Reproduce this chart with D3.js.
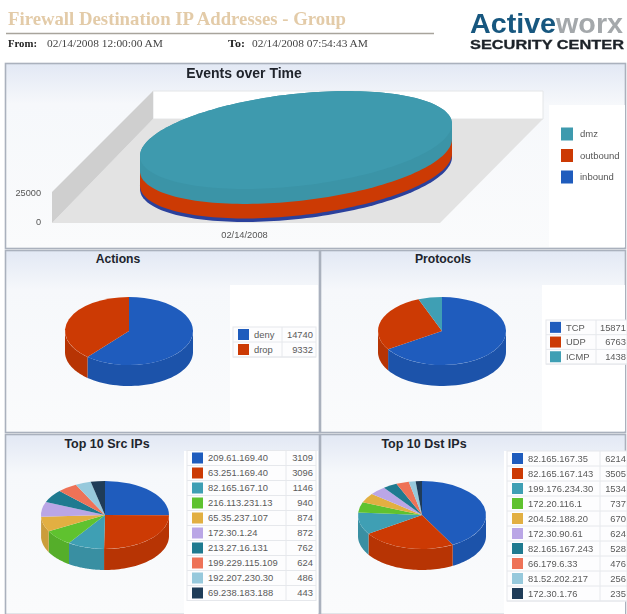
<!DOCTYPE html>
<html>
<head>
<meta charset="utf-8">
<script src="https://cdnjs.cloudflare.com/ajax/libs/d3/7.8.5/d3.min.js"></script>
<style>
  html, body { margin: 0; padding: 0; background: #fff; }
  svg { display: block; filter: blur(0.55px); }
  text { font-family: "Liberation Sans", Arial, sans-serif; }
  .serif { font-family: "Liberation Serif", serif; }
</style>
</head>
<body>
<svg id="chart" width="627" height="614"></svg>
<script>
const REPORT_TITLE = 'Firewall Destination IP Addresses - Group';
const DATE_FROM = '02/14/2008 12:00:00 AM';
const DATE_TO = '02/14/2008 07:54:43 AM';

const COLORS = ['#1f5cbd', '#cc3a04', '#3f9fb4', '#5fc22f', '#e2af42', '#baa6e6', '#1f7a90', '#ee7257', '#97c9dc', '#1f3c58'];

const EVENT_DATE = ['02/14/2008'];
const EVENT_TICKS = [0, 25000];
const EVENT_NAMES = ['inbound', 'outbound', 'dmz'];
const EVENT_VALUES = [2550, 10590, 10932];
const EVENT_COLORS = ['#2b419c', '#cc3a04', '#3e9aae'];

const ACTION_NAMES = ['deny', 'drop'];
const ACTION_VALUES = [14740, 9332];

const PROTOCOL_NAMES = ['TCP', 'UDP', 'ICMP'];
const PROTOCOL_VALUES = [15871, 6763, 1438];

const SRC_NAMES = ['209.61.169.40', '63.251.169.40', '82.165.167.10', '216.113.231.13', '65.35.237.107', '172.30.1.24', '213.27.16.131', '199.229.115.109', '192.207.230.30', '69.238.183.188'];
const SRC_VALUES = [3109, 3096, 1146, 940, 874, 872, 762, 624, 486, 443];

const DST_NAMES = ['82.165.167.35', '82.165.167.143', '199.176.234.30', '172.20.116.1', '204.52.188.20', '172.30.90.61', '82.165.167.243', '66.179.6.33', '81.52.202.217', '172.30.1.76'];
const DST_VALUES = [6214, 3505, 1534, 737, 670, 624, 528, 476, 256, 235];

const svg = d3.select('#chart');

const defs = svg.append('defs');
const grad = defs.append('linearGradient').attr('id', 'panelBg').attr('x1', 0).attr('y1', 0).attr('x2', 0).attr('y2', 1);
grad.append('stop').attr('offset', 0).attr('stop-color', '#e2e8f4');
grad.append('stop').attr('offset', 0.22).attr('stop-color', '#f6f8fb');
grad.append('stop').attr('offset', 1).attr('stop-color', '#fafbfc');

function renderHeader() {
  svg.append('text').attr('class', 'serif').attr('x', 8).attr('y', 25)
    .attr('font-size', 19).attr('font-weight', 'bold').attr('fill', '#e3cba8')
    .attr('textLength', 338).attr('lengthAdjust', 'spacingAndGlyphs').text(REPORT_TITLE);
  svg.append('line').attr('x1', 6).attr('x2', 434).attr('y1', 33.5).attr('y2', 33.5)
    .attr('stroke', '#a8a49c').attr('stroke-width', 1.5);

  const dates = [['From:', 8, 29, DATE_FROM, 47], ['To:', 228, 17, DATE_TO, 252]];
  dates.forEach(d => {
    svg.append('text').attr('class', 'serif').attr('x', d[1]).attr('y', 47)
      .attr('font-size', 10.5).attr('font-weight', 'bold').attr('fill', '#222')
      .attr('textLength', d[2]).attr('lengthAdjust', 'spacingAndGlyphs').text(d[0]);
    svg.append('text').attr('class', 'serif').attr('x', d[4]).attr('y', 47)
      .attr('font-size', 10.5).attr('fill', '#444')
      .attr('textLength', 116).attr('lengthAdjust', 'spacingAndGlyphs').text(d[3]);
  });

  // logo
  const logo = svg.append('text').attr('x', 470).attr('y', 32.5)
    .attr('font-size', 28).attr('font-weight', 'bold')
    .attr('textLength', 153).attr('lengthAdjust', 'spacingAndGlyphs');
  logo.append('tspan').attr('fill', '#17577f').text('Active');
  logo.append('tspan').attr('fill', '#a4a8ab').text('worx');
  svg.append('text').attr('x', 470).attr('y', 48.5)
    .attr('font-size', 12).attr('font-weight', 'bold').attr('fill', '#1c2228')
    .attr('stroke', '#1c2228').attr('stroke-width', 0.3)
    .attr('textLength', 154).attr('lengthAdjust', 'spacingAndGlyphs').text('SECURITY CENTER');
}

function renderPanel(x, y, w, h, title, titleX, titleY, size) {
  svg.append('rect').attr('x', x + 0.5).attr('y', y + 0.5).attr('width', w).attr('height', h)
    .attr('fill', 'url(#panelBg)').attr('stroke', '#aab1bd').attr('stroke-width', 1.6);
  svg.append('text').attr('x', titleX).attr('y', titleY).attr('text-anchor', 'middle')
    .attr('font-size', size).attr('font-weight', 'bold').attr('fill', '#20242c').text(title);
}

// 3d pie: top face from d3.arc squashed, rim built from the same angles
function renderPie(values, cx, cy, rx, ry, depth) {
  const arcs = d3.pie().sort(null)(values);
  const g = svg.append('g').attr('transform', `translate(${cx},${cy})`);
  const FRONT_A = Math.PI / 2;
  const FRONT_B = Math.PI * 1.5;

  const rimLine = d3.line();
  arcs.forEach(a => {
    const start = Math.max(a.startAngle, FRONT_A);
    const end = Math.min(a.endAngle, FRONT_B);
    if (end <= start) return;
    const angles = d3.range(0, 41).map(i => start + (end - start) * i / 40);
    const upper = angles.map(t => [rx * Math.sin(t), -ry * Math.cos(t)]);
    const lower = upper.map(p => [p[0], p[1] + depth]).reverse();
    g.append('path').attr('d', rimLine(upper.concat(lower)) + 'Z')
      .attr('fill', d3.color(COLORS[a.index]).darker(0.3));
  });

  const arc = d3.arc().innerRadius(0).outerRadius(rx);
  g.append('g').attr('transform', `scale(1,${ry / rx})`)
    .selectAll('path').data(arcs).enter().append('path')
    .attr('d', arc)
    .attr('fill', (d, i) => COLORS[i]);
}

function renderLegend(names, values, o) {
  const y = d3.scaleBand().domain(d3.range(names.length))
    .range([o.top, o.top + o.step * names.length]);
  svg.append('rect').attr('x', o.boxX).attr('y', o.top).attr('width', o.boxW)
    .attr('height', o.step * names.length).attr('fill', '#fdfdfe').attr('stroke', '#e6e8ec');
  const rows = svg.append('g').selectAll('g').data(names).enter().append('g')
    .attr('transform', (d, i) => `translate(0,${y(i)})`);
  rows.append('line').attr('x1', o.boxX).attr('x2', o.boxX + o.boxW).attr('y1', o.step).attr('y2', o.step)
    .attr('stroke', '#e6e8ec');
  rows.append('line').attr('x1', o.valueX - o.valueW).attr('x2', o.valueX - o.valueW).attr('y1', 0).attr('y2', o.step)
    .attr('stroke', '#e6e8ec');
  rows.append('rect').attr('x', o.swatchX).attr('y', (o.step - 11) / 2).attr('width', 11).attr('height', 11)
    .attr('fill', (d, i) => COLORS[i]);
  rows.append('text').attr('x', o.swatchX + 16).attr('y', o.step / 2 + 3.3)
    .attr('font-size', 9.4).attr('fill', '#5a5a5a').text(d => d);
  rows.append('text').attr('x', o.valueX).attr('y', o.step / 2 + 3.3).attr('text-anchor', 'end')
    .attr('font-size', 9.4).attr('fill', '#5a5a5a').text((d, i) => values[i]);
}

// events chart: a stacked, tilted disc standing on a grey 3d floor
function renderEvents() {
  renderPanel(5, 63, 620, 185, 'Events over Time', 244, 78, 14);
  svg.append('rect').attr('x', 549).attr('y', 105).attr('width', 76).attr('height', 142).attr('fill', '#fff');

  const y = d3.scaleLinear().domain([0, 25000]).range([222, 193]);
  const x = d3.scalePoint().domain(EVENT_DATE).range([244, 244]);
  // the disc is drawn thicker than the axis says, same as the source chart
  const thickness = d3.scaleLinear().domain([0, 24072]).range([0, 33]);

  const poly = d3.line();
  svg.append('path').attr('d', poly([[153, 91], [543, 91], [543, 119], [153, 119]]) + 'Z').attr('fill', '#fff').attr('stroke', '#e4e6e8');
  svg.append('path').attr('d', poly([[153, 119], [543, 119], [440, 223], [52, 223]]) + 'Z').attr('fill', '#e3e3e3');
  svg.append('path').attr('d', poly([[153, 91], [153, 119], [52, 223], [52, 192]]) + 'Z').attr('fill', '#cfcfcf');

  const yAxis = d3.axisLeft(y).tickValues(EVENT_TICKS).tickFormat(d3.format('d')).tickSize(0);
  svg.append('g').attr('transform', 'translate(44,0)').call(yAxis)
    .call(g => g.select('.domain').remove())
    .selectAll('text').attr('font-size', 9.2).attr('fill', '#555').attr('font-family', 'Liberation Sans');
  const xAxis = d3.axisBottom(x).tickSize(0);
  svg.append('g').attr('transform', 'translate(0,228)').call(xAxis)
    .call(g => g.select('.domain').remove())
    .selectAll('text').attr('font-size', 9.3).attr('fill', '#555').attr('font-family', 'Liberation Sans');

  const rotate = 6.4 * Math.PI / 180;
  const a = 156.9, b = 46;
  const cx = 296;
  const baseY = 173; // centre of the lowest ellipse
  const ANGLES = d3.range(0, 181).map(i => i / 180 * 2 * Math.PI);
  const ellipse = cy => ANGLES.map(t => [
    cx + Math.sin(t) * a * Math.cos(rotate) + Math.cos(t) * b * Math.sin(rotate),
    cy - Math.sin(t) * a * Math.sin(rotate) + Math.cos(t) * b * Math.cos(rotate)
  ]);

  let total = 0;
  EVENT_VALUES.forEach((v, i) => {
    const low = ellipse(baseY - thickness(total));
    total += v;
    const high = ellipse(baseY - thickness(total));
    // hull of the two ellipses is the extruded band
    svg.append('path').attr('d', poly(d3.polygonHull(low.concat(high))) + 'Z')
      .attr('fill', d3.color(EVENT_COLORS[i]).darker(i === 2 ? 0.12 : 0));
    if (i === 2) svg.append('path').attr('d', poly(high) + 'Z').attr('fill', EVENT_COLORS[i]);
  });

  const names = EVENT_NAMES.slice().reverse();
  const colors = ['#3e9aae', '#cc3a04', '#1f5cbd'];
  const legendY = d3.scalePoint().domain(names).range([134, 177]);
  const rows = svg.append('g').selectAll('g').data(names).enter().append('g')
    .attr('transform', d => `translate(0,${legendY(d)})`);
  rows.append('rect').attr('x', 561).attr('y', -6.5).attr('width', 12).attr('height', 13)
    .attr('fill', (d, i) => colors[i]);
  rows.append('text').attr('x', 580).attr('y', 3).attr('font-size', 9.5).attr('fill', '#555').text(d => d);
}

renderHeader();
renderEvents();

renderPanel(5, 250, 314, 182, 'Actions', 118, 263, 12.2);
svg.append('rect').attr('x', 230).attr('y', 285).attr('width', 88).attr('height', 146).attr('fill', '#fff');
renderPie(ACTION_VALUES, 129, 331, 64, 34, 21);
renderLegend(ACTION_NAMES, ACTION_VALUES, { top: 327, step: 15, boxX: 233, boxW: 83, swatchX: 238, valueX: 313, valueW: 31 });

renderPanel(320, 250, 305, 182, 'Protocols', 443, 263, 12.2);
svg.append('rect').attr('x', 542).attr('y', 285).attr('width', 83).attr('height', 146).attr('fill', '#fff');
renderPie(PROTOCOL_VALUES, 442, 331, 64, 34, 21);
renderLegend(PROTOCOL_NAMES, PROTOCOL_VALUES, { top: 320, step: 14.7, boxX: 546, boxW: 81, swatchX: 550, valueX: 626, valueW: 30 });

renderPanel(5, 434, 314, 180, 'Top 10 Src IPs', 107, 448, 12.5);
svg.append('rect').attr('x', 184).attr('y', 451).attr('width', 134).attr('height', 163).attr('fill', '#fff');
renderPie(SRC_VALUES, 105, 515, 64, 34, 21);
renderLegend(SRC_NAMES, SRC_VALUES, { top: 450.5, step: 15, boxX: 187, boxW: 129, swatchX: 192, valueX: 313, valueW: 27 });

renderPanel(320, 434, 305, 180, 'Top 10 Dst IPs', 424, 448, 12.5);
svg.append('rect').attr('x', 504).attr('y', 451).attr('width', 121).attr('height', 163).attr('fill', '#fff');
renderPie(DST_VALUES, 422, 515, 64, 34, 21);
renderLegend(DST_NAMES, DST_VALUES, { top: 451, step: 15, boxX: 507, boxW: 120, swatchX: 512, valueX: 626, valueW: 26 });
</script>
</body>
</html>
